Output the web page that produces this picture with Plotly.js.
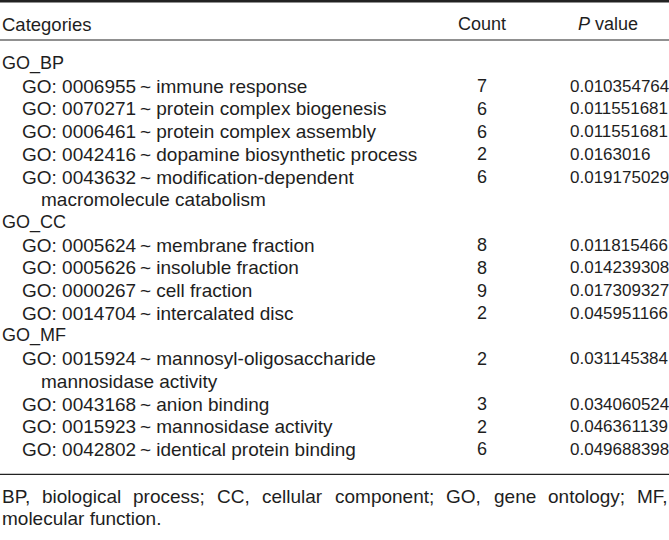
<!DOCTYPE html>
<html><head><meta charset="utf-8">
<script src="https://cdn.plot.ly/plotly-3.0.1.min.js"></script>
<style>html,body{margin:0;padding:0;background:#fff}#chart{width:669px;height:540px}</style>
</head><body><div id="chart"></div>
<script>
// ---- data ----
const headers = ["Categories", "Count", "<i>P</i> value"];
const groups = ["GO_BP", "GO_CC", "GO_MF"];
const groupOf = [0, 0, 0, 0, 0, 1, 1, 1, 1, 2, 2, 2, 2];
const goIds = ["GO: 0006955", "GO: 0070271", "GO: 0006461", "GO: 0042416", "GO: 0043632",
  "GO: 0005624", "GO: 0005626", "GO: 0000267", "GO: 0014704",
  "GO: 0015924", "GO: 0043168", "GO: 0015923", "GO: 0042802"];
const terms = ["immune response", "protein complex biogenesis", "protein complex assembly",
  "dopamine biosynthetic process", "modification-dependent macromolecule catabolism",
  "membrane fraction", "insoluble fraction", "cell fraction", "intercalated disc",
  "mannosyl-oligosaccharide mannosidase activity", "anion binding", "mannosidase activity",
  "identical protein binding"];
const counts = [7, 6, 6, 2, 6, 8, 8, 9, 2, 2, 3, 2, 6];
const pValues = ["0.010354764", "0.011551681", "0.011551681", "0.0163016", "0.019175029",
  "0.011815466", "0.014239308", "0.017309327", "0.045951166",
  "0.031145384", "0.034060524", "0.046361139", "0.049688398"];
const footnote = "BP, biological process; CC, cellular component; GO, gene ontology; MF, molecular function.";

// ---- layout helpers ----
const FAMILY = '"Liberation Sans", Arial, Helvetica, sans-serif';
const COLOR = '#1e1e1e';
const W = 669, H = 540;
const ctx = document.createElement('canvas').getContext('2d');
function tw(s, fs) { ctx.font = fs + 'px "Liberation Sans"'; return ctx.measureText(s).width; }
function wrap(text, maxW, fs) {
  const words = text.split(' '); const lines = []; let cur = '';
  for (const w of words) {
    const t = cur ? cur + ' ' + w : w;
    if (cur && tw(t, fs) > maxW) { lines.push(cur); cur = w; } else cur = t;
  }
  if (cur) lines.push(cur);
  return lines;
}
const SEP = '\u2009~ ';
const FS_HEAD = 18.5, FS_GROUP = 18, FS_ITEM = 19, FS_NUM = 18, FS_P = 17, FS_NOTE = 19;
const X_GROUP = 0.5, X_ITEM = 20.5, X_CONT = 39.5, X_COUNT = 482, X_P = 569, X_PHEAD = 577;
const Y0 = 63.5, DY = 22.7;
const ann = [];
function txt(x, y, s, fs, anchor) {
  ann.push({x: x, y: y, xref: 'x', yref: 'y', text: s, showarrow: false,
    xanchor: anchor || 'left', yanchor: 'middle', borderpad: 0,
    font: {family: FAMILY, size: fs, color: COLOR}});
}
// header
txt(X_GROUP, 24, headers[0], FS_HEAD);
txt(X_COUNT, 24, headers[1], 18, 'center');
txt(X_PHEAD, 24, headers[2], 18);
// body
let line = 0; let lastGroup = -1;
for (let i = 0; i < goIds.length; i++) {
  if (groupOf[i] !== lastGroup) {
    lastGroup = groupOf[i];
    txt(X_GROUP, Y0 + line * DY, groups[lastGroup], FS_GROUP);
    line++;
  }
  const full = goIds[i] + SEP + terms[i];
  const lines = wrap(full, 440 - X_ITEM, FS_ITEM);
  const y = Y0 + line * DY;
  txt(X_ITEM, y, lines[0], FS_ITEM);
  txt(X_COUNT, y, String(counts[i]), FS_NUM, 'center');
  txt(X_P, y, pValues[i], FS_P);
  line++;
  for (let k = 1; k < lines.length; k++) { txt(X_CONT, Y0 + line * DY, lines[k], FS_ITEM); line++; }
}
const yRule = Y0 + (line - 1) * DY + 25;
// footnote, justified first line(s)
const fLines = wrap(footnote, W - 4, FS_NOTE);
fLines.forEach((ln, li) => {
  const y = yRule + 22 + li * 22.5;
  if (li < fLines.length - 1) {
    const ws = ln.split(' ');
    const total = ws.reduce((a, w) => a + tw(w, FS_NOTE), 0);
    const gap = (W - 2 - X_GROUP - total) / (ws.length - 1);
    let x = X_GROUP;
    ws.forEach(w => { txt(x, y, w, FS_NOTE); x += tw(w, FS_NOTE) + gap; });
  } else txt(X_GROUP, y, ln, FS_NOTE);
});
const shapes = [
  {type: 'line', xref: 'x', yref: 'y', x0: 0, x1: W, y0: 1.2, y1: 1.2, line: {color: '#222', width: 2.4}},
  {type: 'line', xref: 'x', yref: 'y', x0: 0, x1: W, y0: 40, y1: 40, line: {color: '#222', width: 1.2}},
  {type: 'line', xref: 'x', yref: 'y', x0: 0, x1: W, y0: yRule, y1: yRule, line: {color: '#222', width: 1.3}}
];
Plotly.newPlot('chart', [{type: 'scatter', x: [], y: [], hoverinfo: 'skip', showlegend: false}], {
  width: W, height: H, margin: {l: 0, r: 0, t: 0, b: 0, pad: 0},
  paper_bgcolor: '#fff', plot_bgcolor: '#fff', showlegend: false,
  xaxis: {range: [0, W], visible: false, fixedrange: true},
  yaxis: {range: [H, 0], visible: false, fixedrange: true},
  annotations: ann, shapes: shapes
}, {staticPlot: true, displayModeBar: false});
</script></body></html>
